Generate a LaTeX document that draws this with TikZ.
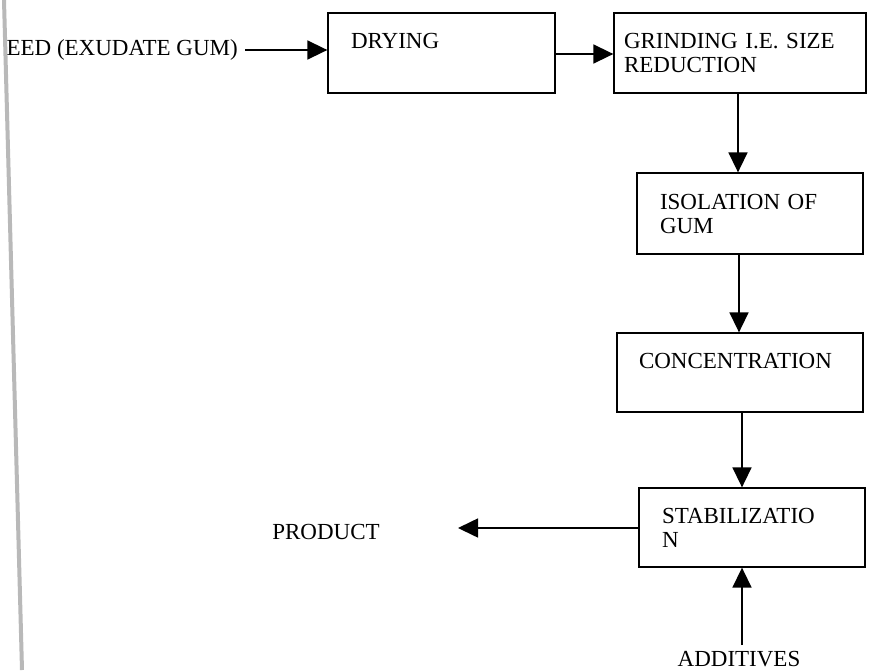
\documentclass[tikz,border=0pt]{standalone}
\usepackage{fontspec}
\setmainfont{Liberation Serif}
\usetikzlibrary{arrows.meta}
\tikzset{
  lbl/.style={font=\fontsize{23}{24}\selectfont, inner sep=0pt},
  procbox/.style={draw, line width=1.3pt, rectangle, align=left,
    font=\fontsize{23}{24}\selectfont, inner ysep=0pt},
  arr/.style={line width=1.6pt, -{Triangle[length=20pt,width=19pt]}},
}
\begin{document}
\begin{tikzpicture}[x=1pt,y=-1pt]
\useasboundingbox (0,0) rectangle (873,670);
% scanned page edge
\draw[line width=4pt, gray!55] (4,0) -- (22,670);
% boxes
\node[procbox, minimum width=227pt, minimum height=80pt, text width=181pt, inner xsep=23pt] (dry) at (441.5,53) {DRYING\\\mbox{}};
\node[procbox, minimum width=252pt, minimum height=80pt, text width=232pt, inner xsep=10pt] (grind) at (740,53) {GRINDING I.E. SIZE\\REDUCTION};
\node[procbox, minimum width=226pt, minimum height=81pt, text width=180pt, inner xsep=23pt] (iso) at (750,213.5) {ISOLATION OF\\GUM};
\node[procbox, minimum width=246pt, minimum height=79pt, text width=202pt, inner xsep=22pt] (conc) at (740,372.5) {CONCENTRATION\\\mbox{}};
\node[procbox, minimum width=226pt, minimum height=79pt, text width=180pt, inner xsep=23pt] (stab) at (752,527.5) {STABILIZATIO\\N};
% labels
\node[lbl, anchor=east] (feed) at (238,50) {EED (EXUDATE GUM)};
\node[lbl] (prod) at (326,532) {PRODUCT};
\node[lbl, anchor=north] (add) at (739,651) {ADDITIVES};
\coordinate (ptip) at (458,528);
% connectors
\draw[arr] ([xshift=7pt]feed.east) -- (feed.east -| dry.west);
\draw[arr] ([yshift=-1pt]dry.east) -- ([yshift=-1pt]dry.east -| grind.west);
\draw[arr] ([xshift=-2pt]grind.south) -- ([xshift=-2pt]grind.south |- iso.north);
\draw[arr] ([xshift=-11pt]iso.south) -- ([xshift=-11pt]iso.south |- conc.north);
\draw[arr] ([xshift=2pt]conc.south) -- ([xshift=2pt]conc.south |- stab.north);
\draw[arr] (stab.west |- ptip) -- (ptip);
\draw[arr] ([xshift=3pt,yshift=6pt]add.north) -- ([xshift=3pt]add.north |- stab.south);
\end{tikzpicture}
\end{document}
